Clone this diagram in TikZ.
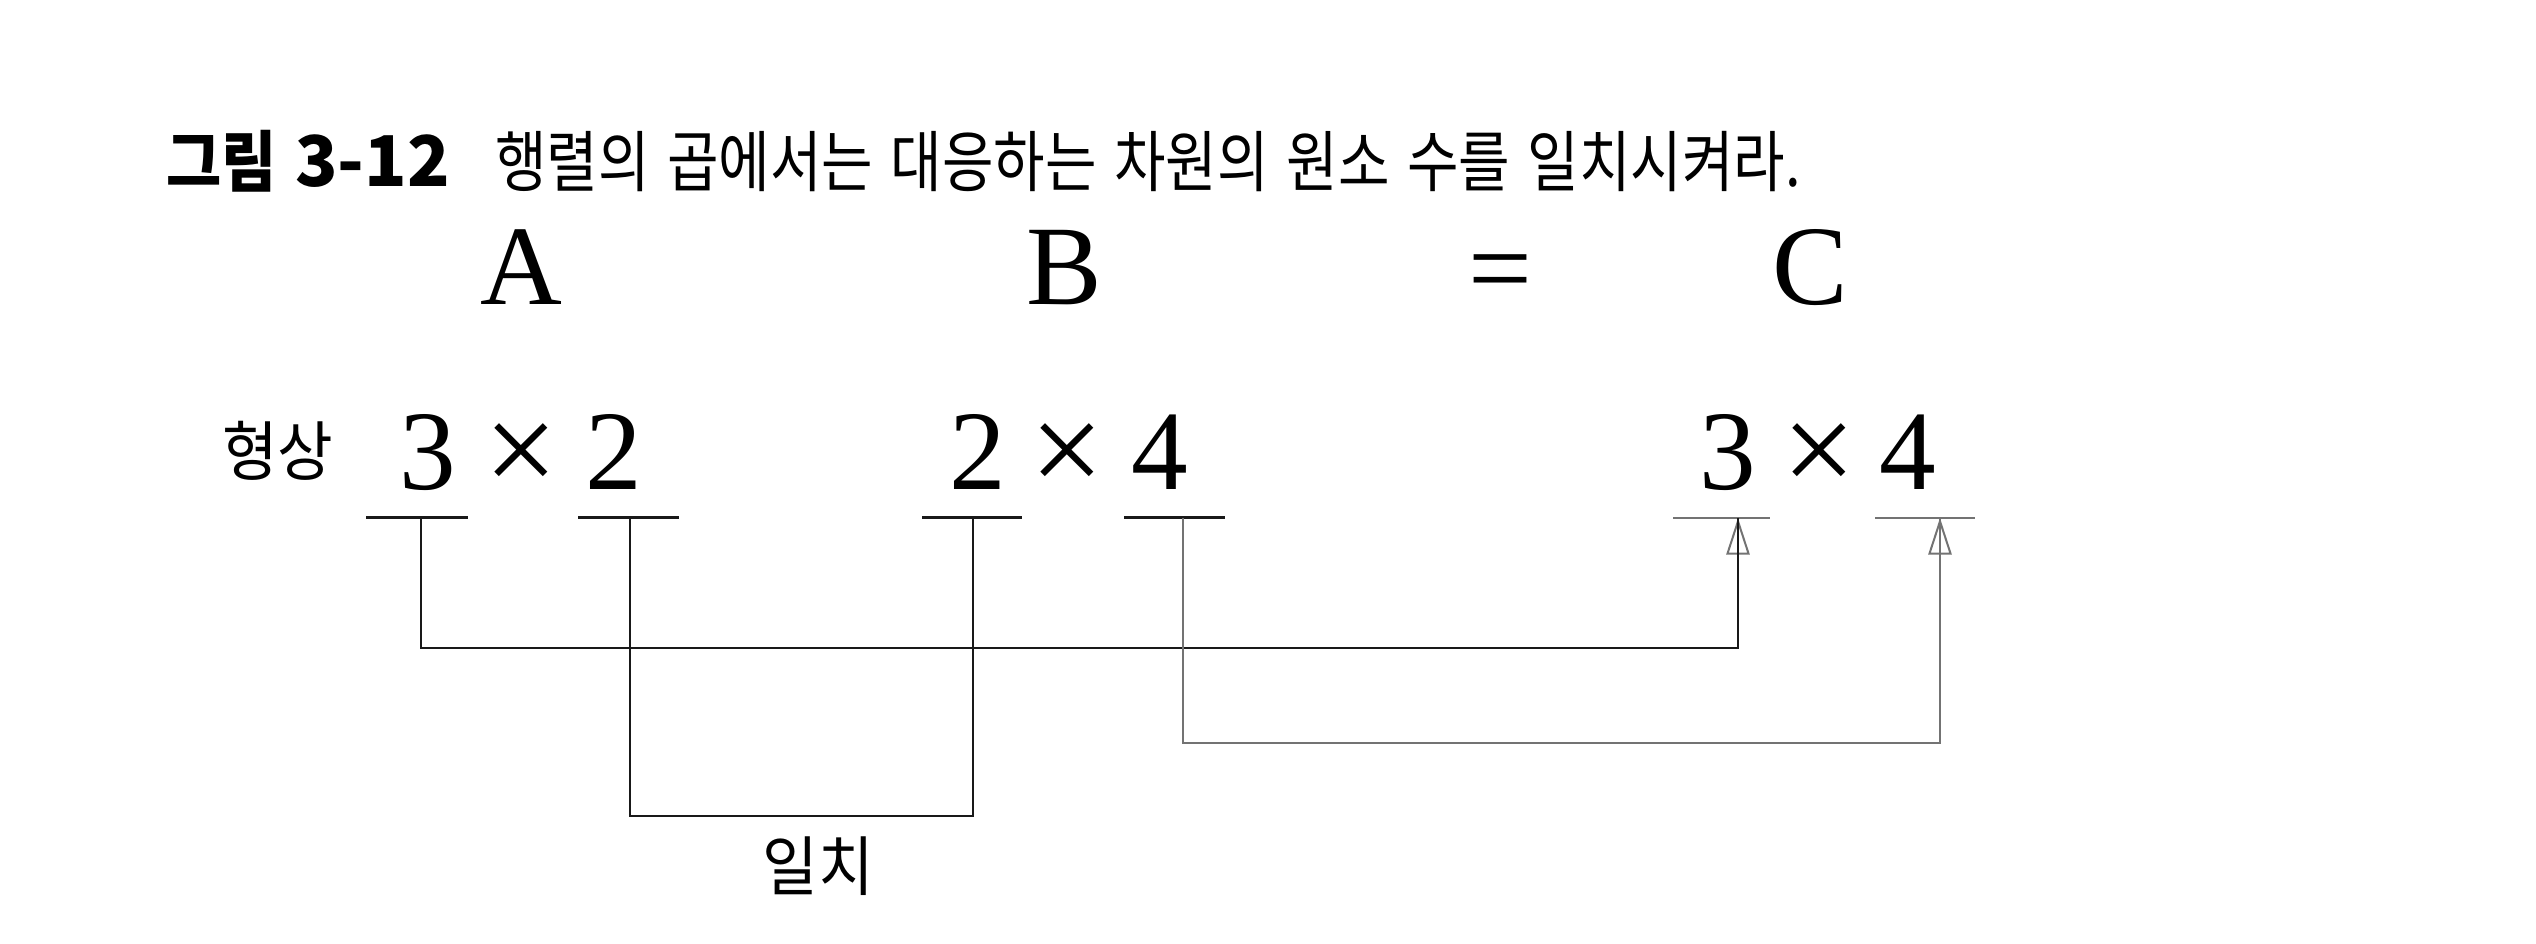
\documentclass[tikz,border=0pt]{standalone}
\usepackage{fontspec}
\setmainfont{Liberation Serif}
\newfontfamily\krc[FakeStretch=0.84,WordSpace=1.4]{Noto Sans CJK KR}
\newfontfamily\krb[FakeStretch=0.9]{Noto Sans CJK KR}
\newfontfamily\krl[FakeStretch=0.93]{Noto Sans CJK KR}
\newfontfamily\krn{Noto Sans CJK KR}
\usetikzlibrary{arrows.meta}
\definecolor{ink}{gray}{0.1}
\definecolor{inklight}{gray}{0.45}
\begin{document}
\begin{tikzpicture}[x=0.3pt,y=-0.3pt,
  every node/.style={inner sep=0pt,outer sep=0pt},
  titlebold/.style={anchor=base west,font=\krb\bfseries\fontsize{20}{20}\selectfont},
  titlenum/.style={anchor=base west,font=\krn\bfseries\fontsize{21}{21}\selectfont},
  titletext/.style={anchor=base west,font=\krc\fontsize{20}{20}\selectfont},
  krlabel/.style={anchor=center,font=\krl\fontsize{19.5}{19.5}\selectfont},
  letter/.style={anchor=base,font=\fontsize{34}{34}\selectfont},
  digit/.style={anchor=base,font=\fontsize{34}{34}\selectfont},
  timessign/.style={anchor=center,font=\fontsize{34}{34}\selectfont,scale=1.15},
  barline/.style={draw=ink,line width=0.9pt},
  barlight/.style={draw=inklight,line width=0.8pt},
  wire/.style={draw=ink,line width=0.75pt},
  wirelight/.style={draw=inklight,line width=0.65pt},
  tip/.style={-{Triangle[open,length=11pt,width=7pt,color=inklight,line width=0.6pt]}}
]
\useasboundingbox (0,0) rectangle (2536,944);

% title
\node[titlebold] (tfig) at (166,187) {그림};
\node[titlenum] (tnum) at (295,187) {3-12};
\node[titletext] (ttext) at (495,187) {행렬의 곱에서는 대응하는 차원의 원소 수를 일치시켜라.};

% matrix names
\node[letter] (A) at (521,305) {A};
\node[letter] (B) at (1064,305) {B};
\node[timessign,scale=0.87] (eq) at (1500,281) {=};
\node[letter] (C) at (1810,305) {C};

% shapes
\node[krlabel] (shape) at (278,451) {형상};
\node[digit] (a3) at (428,490) {3};
\node[timessign] (ax) at (521,459) {×};
\node[digit] (a2) at (614,490) {2};
\node[digit] (b2) at (978,490) {2};
\node[timessign] (bx) at (1067,459) {×};
\node[digit] (b4) at (1160,490) {4};
\node[digit] (c3) at (1728,490) {3};
\node[timessign] (cx) at (1819,459) {×};
\node[digit] (c4) at (1908,490) {4};

% connection points under the bars
\coordinate (pa1) at (421,518);
\coordinate (pa2) at (630,518);
\coordinate (pb1) at (973,518);
\coordinate (pb2) at (1183,518);
\coordinate (pc1) at (1738,518);
\coordinate (pc2) at (1940,518);
\coordinate (h1) at (0,648);
\coordinate (h2) at (0,816);
\coordinate (h3) at (0,743);

% bars
\draw[barline] (pa1) ++(-55,0) -- ++(102,0);
\draw[barline] (pa2) ++(-52,0) -- ++(101,0);
\draw[barline] (pb1) ++(-51,0) -- ++(100,0);
\draw[barline] (pb2) ++(-59,0) -- ++(101,0);
\draw[barlight] (pc1) ++(-65,0) -- ++(97,0);
\draw[barlight] (pc2) ++(-65,0) -- ++(100,0);

% connectors
\draw[wire] (pa2) -- (pa2 |- h2) -- (pb1 |- h2) -- (pb1);
\draw[wire,tip] (pa1) -- (pa1 |- h1) -| (pc1);
\draw[wire] (pc1) -- ++(0,40);
\draw[wirelight,tip] (pb2) -- (pb2 |- h3) -| (pc2);
\draw[wirelight] (pc2) -- ++(0,40);

\node[krlabel] (match) at (818,866) {일치};
\end{tikzpicture}
\end{document}
